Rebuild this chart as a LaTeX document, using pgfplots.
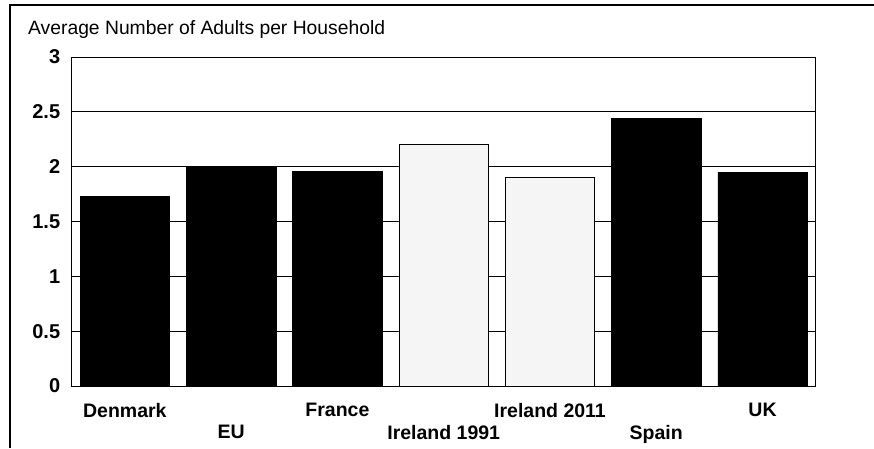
\documentclass[border=0pt]{standalone}
\usepackage{pgfplots}
\pgfplotsset{compat=1.18}
\usepackage{fontspec}
\setmainfont{Liberation Sans}
\begin{document}
\begin{tikzpicture}[x=1pt,y=1pt]
\path[use as bounding box] (0,0) rectangle (874,448);
\draw[line width=1.5pt] (10,0) -- (10,443) -- (874,443);
\node[anchor=base west, inner sep=0pt, font=\fontsize{19.3}{22}\selectfont] at (28,413) {Average Number of Adults per Household};
\begin{axis}[
  at={(71.7pt,62pt)}, anchor=south west,
  scale only axis, width=744pt, height=329pt,
  xmin=-0.5, xmax=6.5, ymin=0, ymax=3,
  ytick={0,0.5,1,1.5,2,2.5,3},
  yticklabels={0,0.5,1,1.5,2,2.5,3},
  xtick={0,2,4,6},
  xticklabels={Denmark,France,Ireland 2011,UK},
  extra x ticks={1,3,5},
  extra x tick labels={EU,Ireland 1991,Spain},
  extra x tick style={xmajorgrids=false, tick label style={yshift=-22pt}},
  major tick length=0pt,
  ymajorgrids, grid style={black, line width=0.8pt},
  axis line style={black, line width=0.9pt},
  /pgf/number format/assume math mode=true,
  tick label style={font=\bfseries\fontsize{19.5}{22}\selectfont},
  yticklabel style={font=\bfseries\fontsize{20}{22}\selectfont, xshift=-8pt},
  xticklabel style={yshift=-14pt},
  clip=false,
]
\addplot[ybar, bar shift=0pt, bar width=89.5pt, fill=black, draw=black] coordinates {(0,1.73) (1,2.0) (2,1.96) (5,2.44) (6,1.95)};
\addplot[ybar, bar shift=0pt, bar width=89.5pt, fill=black!4, draw=black, line width=0.9pt] coordinates {(3,2.2) (4,1.9)};
\end{axis}
\end{tikzpicture}
\end{document}
